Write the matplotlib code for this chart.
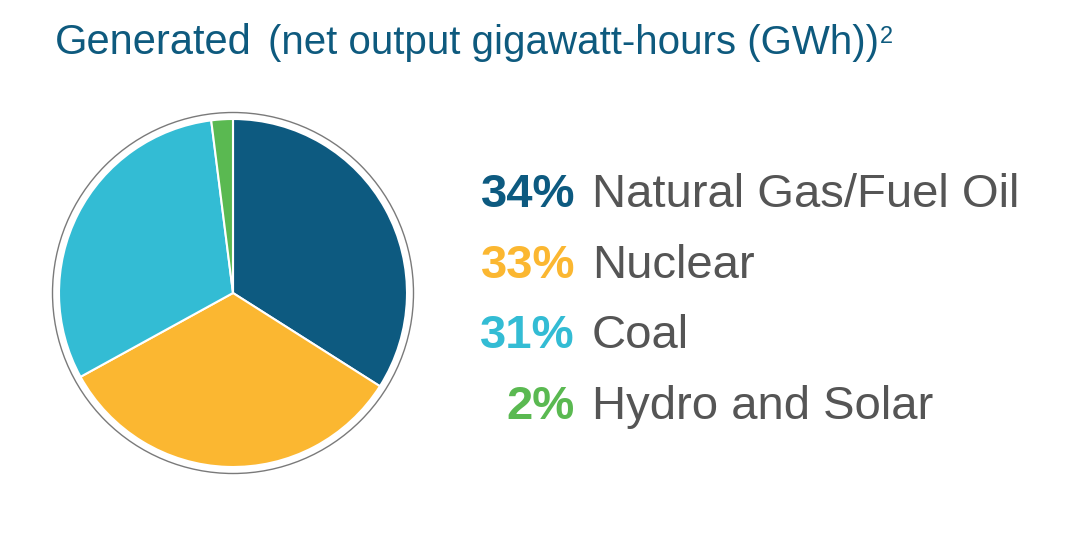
import matplotlib
matplotlib.use("Agg")
import matplotlib.pyplot as plt
from matplotlib import font_manager
from matplotlib.patches import Circle

# veriler
labels = ["Natural Gas/Fuel Oil", "Nuclear", "Coal", "Hydro and Solar"]
shares = [34, 33, 31, 2]
colors = ["#0d5a80", "#fbb731", "#33bcd4", "#5ab951"]

title_main = "Generated"
title_rest = "(net output gigawatt-hours (GWh))"
title_sup = "2"

W, H = 1068, 550
names = {f.name for f in font_manager.fontManager.ttflist}
narrow = "Liberation Sans Narrow" if "Liberation Sans Narrow" in names else "Liberation Sans"
fam = [narrow, "DejaVu Sans"]

fig = plt.figure(figsize=(W / 100, H / 100), dpi=100)
ax = fig.add_axes([0, 0, 1, 1])
ax.set_xlim(0, W)
ax.set_ylim(0, H)
ax.set_aspect("equal")
ax.axis("off")

# pasta grafiği
cx, cy, r = 233, H - 293, 174
ax.pie(shares, colors=colors, startangle=90, counterclock=False,
       center=(cx, cy), radius=r,
       wedgeprops=dict(edgecolor="white", linewidth=1.5))
ax.add_patch(Circle((cx, cy), 180.5, fill=False, edgecolor="#7a7a7a", linewidth=1.0))
ax.set_xlim(0, W)
ax.set_ylim(0, H)

# lejant
rows_y = [207, 278, 348, 419]
for lab, s, c, y in zip(labels, shares, colors, rows_y):
    ax.text(575, H - y, f"{s}%", color=c, fontsize=34, fontweight="bold",
            family=fam, ha="right", va="baseline")
    ax.text(592, H - y, lab, color="#555555", fontsize=34,
            family=fam, ha="left", va="baseline")

# başlık
fig.canvas.draw()
renderer = fig.canvas.get_renderer()
t1 = ax.text(55, H - 54, title_main, color="#0e5a7e", fontsize=30,
             family=fam, ha="left", va="baseline")
bb = t1.get_window_extent(renderer)
t2 = ax.text(bb.x1 + 16, H - 54, title_rest, color="#0e5a7e", fontsize=29,
             family=fam, ha="left", va="baseline")
bb2 = t2.get_window_extent(renderer)
ax.text(bb2.x1 + 1, H - 43, title_sup, color="#0e5a7e", fontsize=17,
        family=fam, ha="left", va="baseline")

fig.savefig("out.png", dpi=100, facecolor="white")
